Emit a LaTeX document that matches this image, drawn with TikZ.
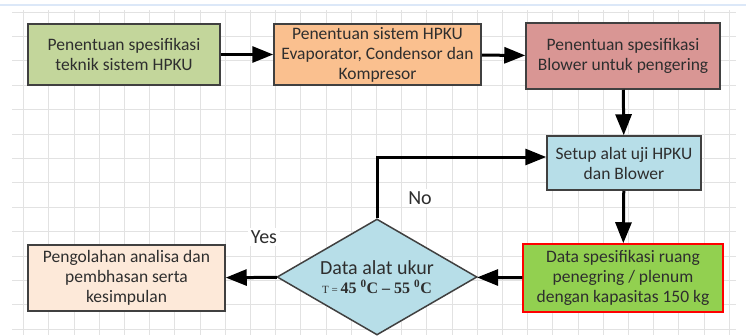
\documentclass[tikz,border=0pt]{standalone}
\usepackage{fontspec}
\setmainfont{Carlito}
\newfontfamily\tnr{Liberation Serif}
\usetikzlibrary{arrows.meta,shapes.geometric,calc}
\definecolor{gA}{HTML}{C3D69B}
\definecolor{oA}{HTML}{FAC08F}
\definecolor{rA}{HTML}{D99694}
\definecolor{bA}{HTML}{B7DEE8}
\definecolor{gB}{HTML}{92D050}
\definecolor{pA}{HTML}{FDE9D9}
\definecolor{edge}{HTML}{404040}
\definecolor{txt}{HTML}{2E2E2E}
\definecolor{gridc}{HTML}{E2E2E2}
\definecolor{topline}{HTML}{DCE8F8}
\tikzset{
  box/.style={draw=edge, line width=1.5pt, text=txt, align=center, inner sep=2pt,
    font=\fontsize{17.5}{20}\selectfont},
  arr/.style={line width=3pt, -{Triangle[length=21pt,width=16pt]}},
  lbl/.style={fill=white, text=txt, inner sep=3pt, font=\fontsize{20}{24}\selectfont},
}
\begin{document}
\begin{tikzpicture}[x=1pt,y=-1pt]
\path[use as bounding box, clip] (0,0) rectangle (746,335);
\fill[white] (0,0) rectangle (746,335);
% grid
\foreach \k in {0,...,28} {\draw[gridc, line width=0.8pt] ({23.5+25.2*\k},10) -- ({23.5+25.2*\k},335);}
\foreach \k in {0,...,13} {\draw[gridc, line width=0.8pt] (12,{12+24.4*\k}) -- (736,{12+24.4*\k});}
\draw[topline, line width=1.2pt] (0,5) -- (746,5);
% nodes
\node[box, fill=gA, minimum width=192pt, minimum height=61pt] (n1) at (124,54.5) {Penentuan spesifikasi\\teknik sistem HPKU};
\node[box, fill=oA, minimum width=207pt, minimum height=61pt] (n2) at (377.5,54.5) {Penentuan sistem HPKU\\Evaporator, Condensor dan\\Kompresor};
\node[box, fill=rA, minimum width=194pt, minimum height=66pt] (n3) at (623,56) {Penentuan spesifikasi\\Blower untuk pengering};
\node[box, fill=bA, minimum width=154pt, minimum height=54pt] (n4) at (624,163) {Setup alat uji HPKU\\dan Blower};
\node[box, fill=gB, draw=red, minimum width=200pt, minimum height=68pt] (n5) at (623,278) {Data spesifikasi ruang\\penegring / plenum\\dengan kapasitas 150 kg};
\node[box, fill=bA, shape=diamond, inner sep=0pt, aspect=1.72, minimum width=200pt, minimum height=116pt] (n6) at (377,277)
  {{\fontsize{20}{22}\selectfont Data alat ukur}\\[-1pt]{\tnr\fontsize{11}{14}\selectfont T = }{\tnr\bfseries\fontsize{16}{18}\selectfont 45 \textsuperscript{0}C – 55 \textsuperscript{0}C}};
\node[box, fill=pA, minimum width=197pt, minimum height=66pt] (n7) at (126.5,278) {Pengolahan analisa dan\\pembhasan serta\\kesimpulan};
% labels
\node[lbl] (no) at (420,198) {No};
\node[lbl] (yes) at (264,237) {Yes};
% connectors
\coordinate (setupin) at ($(n4.west)+(0,-6)$);
\draw[arr] (n1) -- (n2);
\draw[arr] (n2) -- (n3);
\draw[arr] (n3) -- (n4);
\draw[arr] (n4) -- (n5);
\draw[arr] (n5) -- (n6);
\draw[arr] (n6) -- (n7);
\draw[arr] (n6.north) |- (setupin);
\end{tikzpicture}
\end{document}
